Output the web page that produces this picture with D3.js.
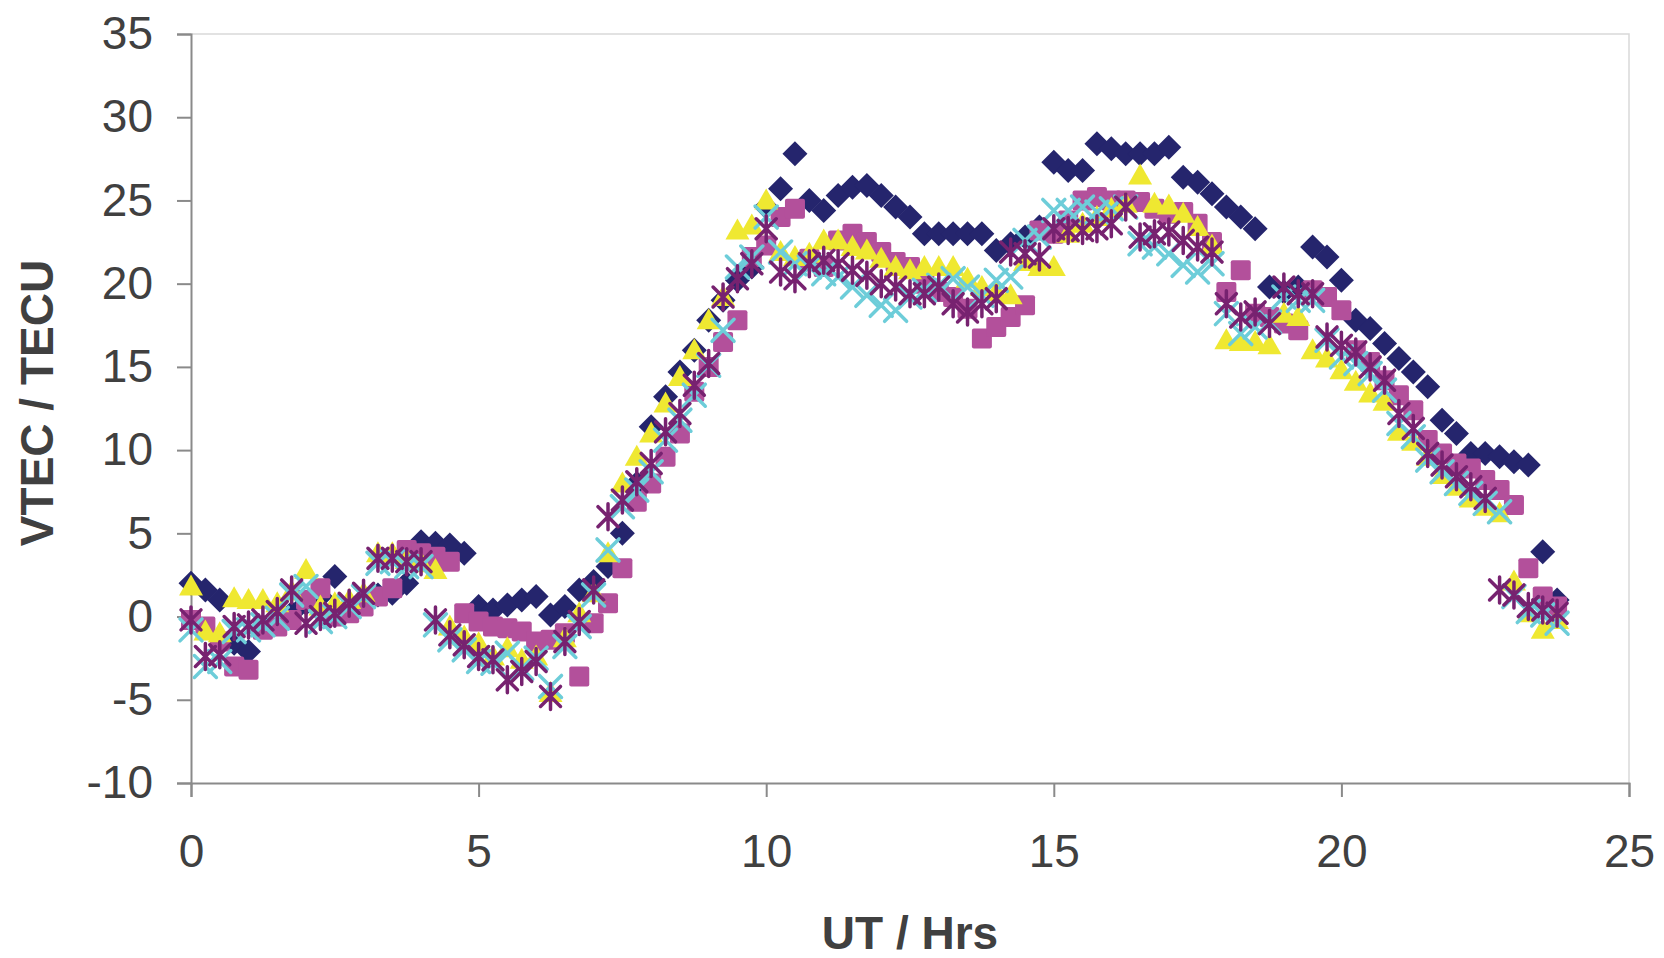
<!DOCTYPE html>
<html>
<head>
<meta charset="utf-8">
<script src="https://cdn.jsdelivr.net/npm/d3@7"></script>
<style>
  body { margin: 0; background: #fff; }
  text { font-family: "Liberation Sans", Arial, sans-serif; }
</style>
</head>
<body>
<svg width="1664" height="958"></svg>
<script>
const hours = [
  0, 0.25, 0.5, 0.75, 1, 1.25, 1.5, 1.75, 2, 2.25, 2.5, 2.75,
  3, 3.25, 3.5, 3.75, 4, 4.25, 4.5, 4.75, 5, 5.25, 5.5, 5.75,
  6, 6.25, 6.5, 6.75, 7, 7.25, 7.5, 7.75, 8, 8.25, 8.5, 8.75,
  9, 9.25, 9.5, 9.75, 10, 10.25, 10.5, 10.75, 11, 11.25, 11.5, 11.75,
  12, 12.25, 12.5, 12.75, 13, 13.25, 13.5, 13.75, 14, 14.25, 14.5, 14.75,
  15, 15.25, 15.5, 15.75, 16, 16.25, 16.5, 16.75, 17, 17.25, 17.5, 17.75,
  18, 18.25, 18.5, 18.75, 19, 19.25, 19.5, 19.75, 20, 20.25, 20.5, 20.75,
  21, 21.25, 21.5, 21.75, 22, 22.25, 22.5, 22.75, 23, 23.25, 23.5, 23.75
];

const diamondVtec = [
  2.0, 1.6, 1.0, -1.6, -2.1, -0.6, -0.4, 0.2, 0.8, 1.2, 2.4, 0.6,
  1.0, 1.3, 1.4, 2.0, 4.5, 4.4, 4.3, 3.8, 0.6, 0.4, 0.7, 1.0,
  1.2, 0.1, 0.6, 1.6, 2.1, 3.0, 5.0, 8.0, 11.4, 13.2, 14.7, 16.0,
  17.8, 19.0, 20.2, 21.0, 24.6, 25.7, 27.8, 25.0, 24.4, 25.3, 25.8, 25.9,
  25.3, 24.6, 24.0, 23.0, 23.0, 23.0, 23.0, 23.0, 22.0, 22.4, 22.8, 23.4,
  27.3, 26.8, 26.8, 28.4, 28.1, 27.8, 27.8, 27.8, 28.2, 26.4, 26.1, 25.4,
  24.6, 24.0, 23.3, 19.8, 19.5, 19.8, 22.2, 21.6, 20.2, 17.8, 17.3, 16.4,
  15.5, 14.7, 13.8, 11.8, 11.0, 9.8, 9.8, 9.6, 9.3, 9.1, 3.9, 1.0
];

const squareVtec = [
  -0.2, -0.6, -1.5, -3.0, -3.2, -0.8, -0.6, -0.2, 1.0, 1.7, 0.0, 0.2,
  0.6, 1.2, 1.7, 4.0, 3.8, 3.6, 3.3, 0.2, -0.3, -0.6, -0.7, -0.9,
  -1.5, -1.4, -1.0, -3.6, -0.4, 0.8, 2.9, 6.9, 8.0, 9.6, 11.0, 13.5,
  15.0, 16.5, 17.8, 21.6, 22.3, 24.0, 24.5, 21.5, 21.0, 22.6, 23.0, 22.5,
  21.9, 21.3, 21.0, 20.0, 19.5, 19.2, 18.5, 16.7, 17.4, 18.0, 18.7, 23.2,
  23.0, 23.8, 25.0, 25.2, 25.0, 25.0, 24.9, 24.5, 24.2, 24.3, 23.6, 22.5,
  19.5, 20.8, 18.2, 18.0, 17.6, 17.2, 19.6, 19.2, 18.4, 16.0, 15.3, 14.2,
  13.3, 12.4, 10.6, 9.8, 9.2, 8.9, 8.2, 7.6, 6.7, 2.9, 1.2, 0.6
];

const triangleVtec = [
  1.8, -0.9, -1.0, 1.1, 1.0, 1.0, 0.8, 1.5, 2.8, 0.6, 0.8, 1.0,
  1.4, 3.8, 3.8, 3.4, 3.2, 2.8, -0.6, -1.2, -1.6, -2.4, -1.9, -2.6,
  -2.4, -4.6, -1.3, 0.2, 1.4, 3.8, 8.0, 9.6, 11.0, 12.8, 14.4, 16.0,
  17.8, 19.2, 23.2, 23.5, 25.0, 21.9, 21.6, 21.8, 22.6, 22.6, 22.2, 22.0,
  21.5, 21.0, 20.8, 21.0, 21.0, 21.0, 20.3, 19.8, 19.5, 19.3, 21.3, 21.0,
  21.0, 23.0, 23.6, 24.0, 24.5, 24.8, 26.5, 24.8, 24.7, 24.2, 23.4, 22.3,
  16.6, 16.5, 16.5, 16.3, 18.2, 18.0, 16.0, 15.5, 14.8, 14.1, 13.4, 12.9,
  11.1, 10.5, 9.6, 8.5, 7.8, 7.1, 6.6, 6.2, 2.1, 0.2, -0.8, -0.2
];

const crossVtec = [
  -0.8, -3.0, -2.7, -0.9, -0.8, -0.5, -0.1, 1.3, 1.8, -0.3, 0.0, 0.6,
  1.2, 3.2, 3.3, 3.0, 3.0, -0.5, -1.4, -2.0, -2.7, -2.8, -2.2, -3.1,
  -2.5, -4.2, -1.8, -0.6, 1.3, 4.0, 6.6, 7.6, 8.7, 10.6, 11.8, 13.3,
  15.1, 17.2, 21.0, 21.6, 24.0, 21.9, 21.2, 21.0, 20.6, 20.4, 19.8, 19.3,
  18.7, 18.4, 19.2, 19.6, 19.9, 20.3, 19.8, 19.3, 20.2, 20.4, 22.6, 22.8,
  24.4, 24.4, 24.6, 24.3, 24.5, 24.6, 22.4, 22.2, 21.8, 21.1, 20.7, 21.2,
  18.2, 17.0, 17.4, 17.7, 19.2, 19.0, 19.0, 16.6, 15.6, 15.2, 14.6, 13.6,
  11.6, 10.8, 9.4, 8.7, 8.0, 7.4, 6.8, 6.3, 1.2, 0.3, 0.1, -0.4
];

const starVtec = [
  -0.2, -2.4, -2.3, -0.6, -0.5, -0.2, 0.3, 1.6, -0.4, 0.0, 0.2, 0.8,
  1.4, 3.5, 3.5, 3.3, 3.3, -0.2, -1.1, -1.7, -2.4, -2.6, -3.8, -3.3,
  -2.7, -4.8, -1.5, -0.3, 1.6, 6.0, 7.0, 8.1, 9.2, 11.1, 12.2, 13.9,
  15.2, 19.2, 20.3, 21.2, 23.3, 20.7, 20.3, 21.2, 21.4, 21.2, 20.8, 20.5,
  20.0, 19.8, 19.4, 19.4, 19.8, 18.8, 18.3, 18.8, 19.1, 21.9, 21.8, 21.6,
  23.3, 23.2, 23.2, 23.3, 23.6, 24.6, 22.8, 23.0, 23.1, 22.6, 22.2, 21.9,
  18.8, 18.0, 18.3, 17.6, 19.8, 19.4, 19.4, 16.8, 16.3, 15.9, 15.0, 14.2,
  12.2, 11.3, 9.8, 9.1, 8.4, 7.8, 7.1, 1.6, 1.3, 0.6, 0.4, 0.2
];

const xTicks = [0, 5, 10, 15, 20, 25];
const yTicks = [-10, -5, 0, 5, 10, 15, 20, 25, 30, 35];

const svg = d3.select("svg");
const plotLeft = 191, plotRight = 1629, plotTop = 34, plotBottom = 783;

const x = d3.scaleLinear().domain([0, 25]).range([plotLeft, plotRight]);
const y = d3.scaleLinear().domain([-10, 35]).range([plotBottom, plotTop]);

// plot frame (light top/right edges)
svg.append("path")
    .attr("d", `M${plotLeft},${plotTop}H${plotRight}V${plotBottom}`)
    .attr("fill", "none")
    .attr("stroke", "#d9d9d9")
    .attr("stroke-width", 1.5);

// plain hyphen for negatives, like the original
const plain = d => String(d);

const yAxis = svg.append("g")
    .attr("transform", `translate(${plotLeft},0)`)
    .call(d3.axisLeft(y).tickValues(yTicks).tickFormat(plain).tickSize(14).tickPadding(24));
const xAxis = svg.append("g")
    .attr("transform", `translate(0,${plotBottom})`)
    .call(d3.axisBottom(x).tickValues(xTicks).tickFormat(plain).tickSize(14).tickPadding(37));

[yAxis, xAxis].forEach(ax => {
    ax.select(".domain").attr("stroke", "#8a8a8a").attr("stroke-width", 2);
    ax.selectAll(".tick line").attr("stroke", "#8a8a8a").attr("stroke-width", 2);
    ax.selectAll(".tick text")
        .attr("fill", "#404040")
        .style("font-size", "46px")
        .style("font-family", "'Liberation Sans', Arial, sans-serif");
});

svg.append("text")
    .attr("x", 910)
    .attr("y", 949)
    .attr("text-anchor", "middle")
    .attr("fill", "#404040")
    .style("font-size", "46px")
    .style("font-weight", "bold")
    .text("UT / Hrs");

svg.append("text")
    .attr("transform", "translate(53,403) rotate(-90)")
    .attr("text-anchor", "middle")
    .attr("fill", "#404040")
    .style("font-size", "46px")
    .style("font-weight", "bold")
    .text("VTEC / TECU");

function pairs(vals) {
    return hours.map((h, i) => ({ h: h, v: vals[i] })).filter(d => d.v != null);
}

function drawFilled(vals, color, path) {
    svg.append("g").selectAll("path")
        .data(pairs(vals))
        .join("path")
        .attr("d", path)
        .attr("transform", d => `translate(${x(d.h)},${y(d.v)})`)
        .attr("fill", color);
}

function drawStroked(vals, color, path) {
    svg.append("g").selectAll("path")
        .data(pairs(vals))
        .join("path")
        .attr("d", path)
        .attr("transform", d => `translate(${x(d.h)},${y(d.v)})`)
        .attr("fill", "none")
        .attr("stroke", color)
        .attr("stroke-width", 3.5)
        .attr("stroke-linecap", "round");
}

drawFilled(diamondVtec, "#25256d", "M0,-12.5L12.5,0L0,12.5L-12.5,0Z");
drawFilled(squareVtec, "#b3509b", "M-10,-8Q-10,-10 -8,-10H8Q10,-10 10,-8V8Q10,10 8,10H-8Q-10,10 -10,8Z");
drawFilled(triangleVtec, "#efe831", "M0,-12L12,9L-12,9Z");
drawStroked(crossVtec, "#6dcdd9", "M-11,-11L11,11M-11,11L11,-11");
drawStroked(starVtec, "#772270", "M-10,-10L10,10M-10,10L10,-10M0,-13V13");
</script>
</body>
</html>
